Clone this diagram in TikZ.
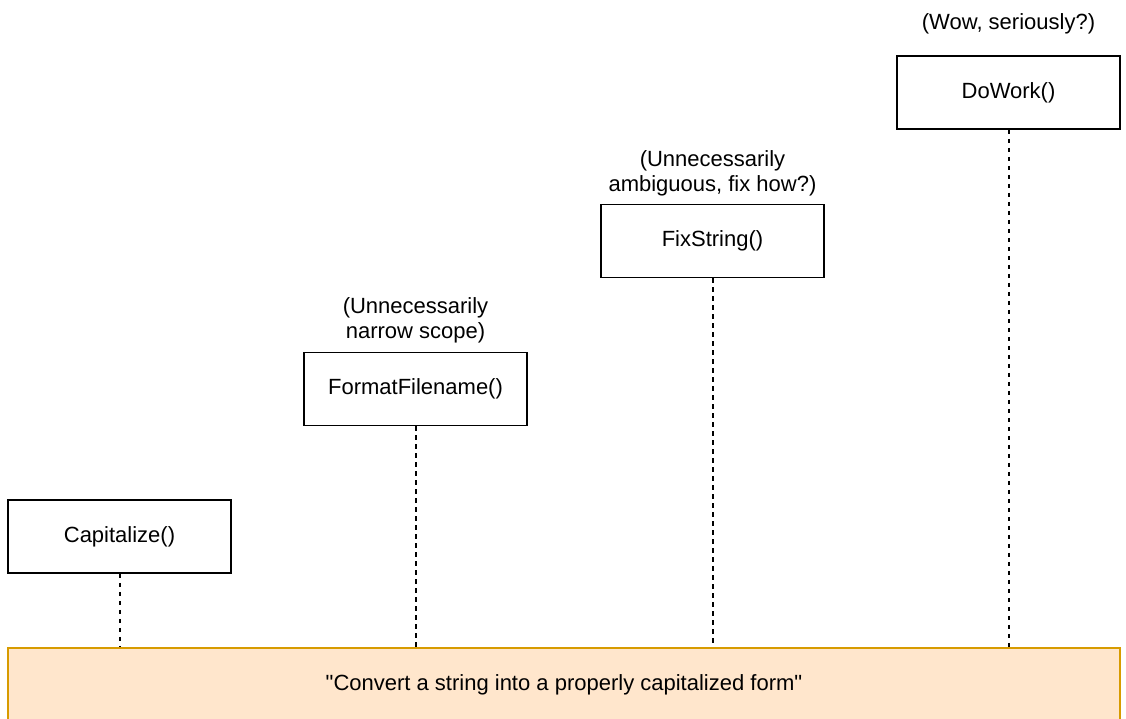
\documentclass[tikz,border=0pt]{standalone}
\usepackage{fontspec}
\setmainfont{Liberation Sans}
% same face without the TeX ligature mapping, so " stays a straight quote
\newfontfamily\straightquotes{Liberation Sans}
\begin{document}
\begin{tikzpicture}[x=1pt,y=-1pt,
  every node/.style={font=\fontsize{22}{25.5}\selectfont},
  funcbox/.style={draw=black, line width=1.8pt, fill=white, minimum width=223pt, minimum height=73pt, inner sep=0pt},
  note/.style={align=center, inner sep=0pt, anchor=south},
  barbox/.style={draw={rgb,255:red,215;green,155;blue,0}, fill={rgb,255:red,255;green,230;blue,204}, line width=1.8pt, minimum width=1112pt, minimum height=74pt, inner sep=0pt},
  leader/.style={dash pattern=on 4.5pt off 4.5pt, line width=2pt}]
  \useasboundingbox (0,0) rectangle (1126,719);

  % shared responsibility bar
  \node[barbox] (bar) at (564,685) {\straightquotes "Convert a string into a properly capitalized form"};

  % the four increasingly vague function names
  \node[funcbox] (cap)  at (119.5,536.5) {Capitalize()};
  \node[funcbox] (fmt)  at (415.5,389)   {FormatFilename()};
  \node[funcbox] (fix)  at (712.5,241)   {FixString()};
  \node[funcbox] (work) at (1008.5,92.5) {DoWork()};

  % commentary above each box
  \node[note] (fmtnote)  at ([yshift=8pt]fmt.north)   {(Unnecessarily\\narrow scope)};
  \node[note] (fixnote)  at ([yshift=7pt]fix.north)   {(Unnecessarily\\ambiguous, fix how?)};
  \node[note] (worknote) at ([yshift=21pt]work.north) {(Wow, seriously?)};

  % dashed leaders down to the bar
  \foreach \b in {cap,fmt,fix,work}
    \draw[leader] (\b.south) -- (\b.south |- bar.north);
\end{tikzpicture}
\end{document}
